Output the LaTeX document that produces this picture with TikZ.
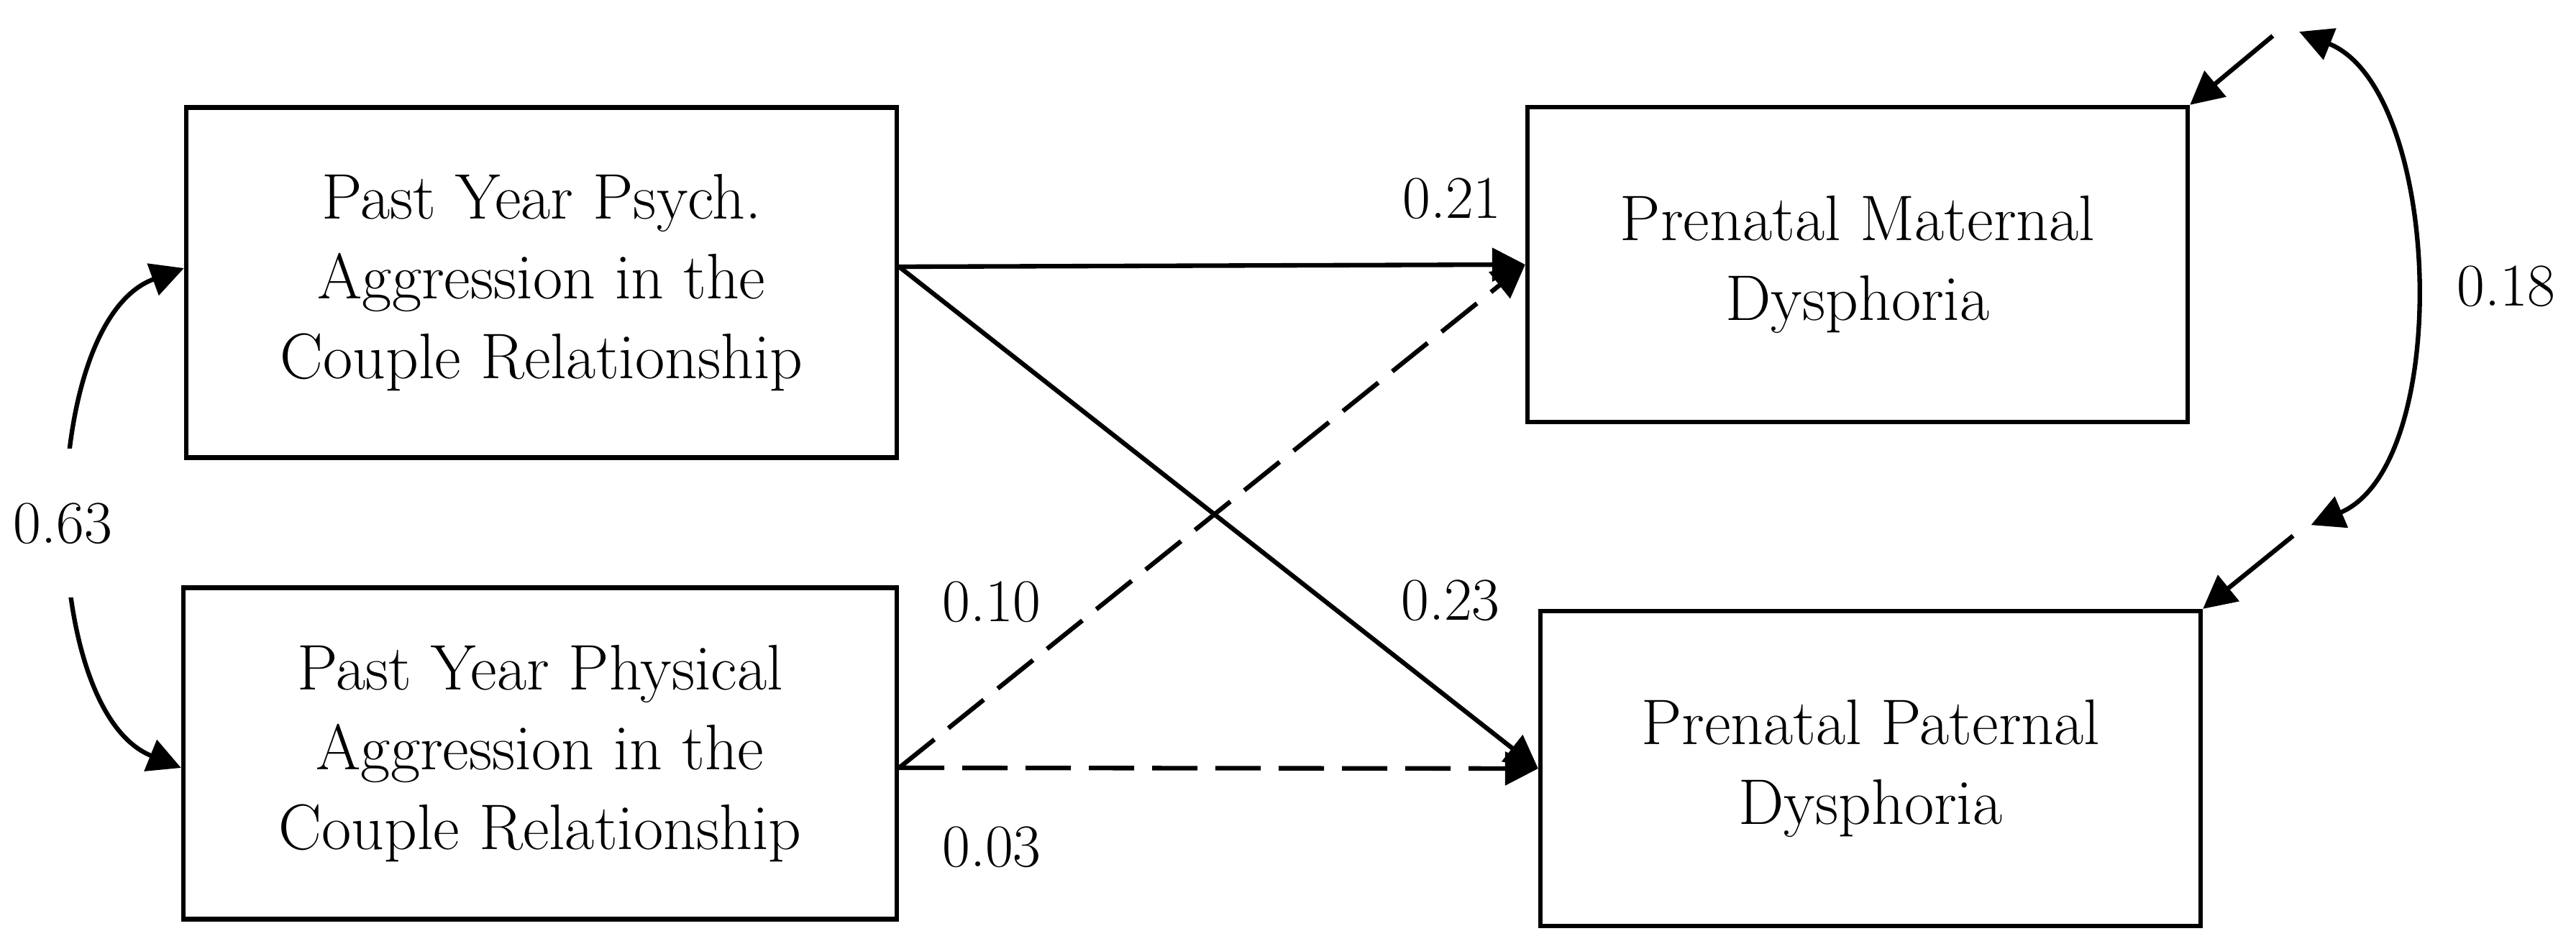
\documentclass[tikz,border=0pt]{standalone}
\usepackage{fontspec}
\usepackage{tikz}
\usetikzlibrary{arrows.meta}

\begin{document}
\begin{tikzpicture}[
        every node/.style={font=\fontsize{24}{31}\selectfont},
        box/.style={draw=black, line width=1.8pt, align=center, inner sep=0pt, font=\fontsize{25.5}{31.5}\selectfont},
        effect/.style={line width=1.8pt, -{Triangle[length=0.46cm,width=0.46cm]}},
        weak/.style={effect, dash pattern=on 0.63cm off 0.25cm},
        cov/.style={line width=1.8pt, {Triangle[length=0.46cm,width=0.46cm]}-{Triangle[length=0.46cm,width=0.46cm]}}]
        \useasboundingbox (0,0) rectangle (35.82,-13.20);
        \node[box, minimum width=9.88cm, minimum height=4.87cm] (psych) at (7.53,-3.93) {Past Year Psych.\\Aggression in the\\Couple Relationship};
        \node[box, minimum width=9.92cm, minimum height=4.61cm] (phys) at (7.51,-10.48) {Past Year Physical\\Aggression in the\\Couple Relationship};
        \node[box, minimum width=9.18cm, minimum height=4.38cm] (mat) at (25.83,-3.68) {Prenatal Maternal\\Dysphoria};
        \node[box, minimum width=9.18cm, minimum height=4.38cm] (pat) at (26.01,-10.69) {Prenatal Paternal\\Dysphoria};
        \node[circle, minimum size=0.42cm, inner sep=0pt] (e1) at (31.77,-0.36) {};
        \node[circle, minimum size=0.28cm, inner sep=0pt] (e2) at (32.00,-7.36) {};
        \draw[effect] ([yshift=0.22cm]psych.east) -- (mat.west);
        \draw[effect] ([yshift=0.22cm]psych.east) -- (pat.west);
        \draw[weak] ([yshift=-0.2cm]phys.east) -- (mat.west);
        \draw[weak] ([yshift=-0.2cm]phys.east) -- (pat.west);
        \draw[effect] (e1) -- (mat.north east);
        \draw[effect] (e2) -- (pat.north east);
        \draw[cov] ([yshift=0.2cm]psych.west) to[out=200, in=158, looseness=0.8]
                node[fill=white, inner xsep=0.05cm, inner ysep=0.75cm, xshift=-0.14cm, yshift=-0.1cm] (r63) {0.63}
                ([yshift=-0.2cm]phys.west);
        \draw[cov] (e1) to[out=-22, in=23, looseness=0.8] (e2);
        \node (b21) at (20.19,-2.76) {0.21};
        \node (b23) at (20.17,-8.35) {0.23};
        \node (b10) at (13.79,-8.37) {0.10};
        \node (b03) at (13.79,-11.78) {0.03};
        \node (r18) at (34.85,-3.98) {0.18};
\end{tikzpicture}
\end{document}
